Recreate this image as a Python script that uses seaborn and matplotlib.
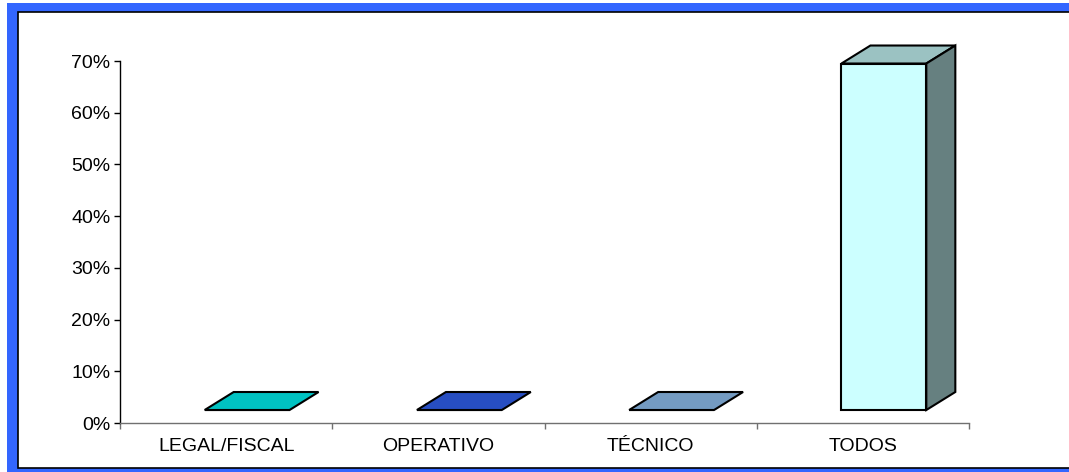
import numpy as np
import pandas as pd
import seaborn as sns
import matplotlib.pyplot as plt
import matplotlib.transforms as mtransforms
from matplotlib.patches import Polygon, Rectangle
from matplotlib.ticker import FuncFormatter, FixedLocator

# data
categorias = ["LEGAL/FISCAL", "OPERATIVO", "TÉCNICO", "TODOS"]
valores = [0.0, 0.0, 0.0, 0.67]
colores = ["#00FFFF", "#3366FF", "#99CCFF", "#CCFFFF"]
y_ticks = [0.0, 0.1, 0.2, 0.3, 0.4, 0.5, 0.6, 0.7]

df = pd.DataFrame({"cat": categorias, "val": valores})

sns.set_theme(style="white")
plt.rcParams["font.family"] = ["Liberation Sans", "DejaVu Sans"]

W, H = 1069, 472
fig = plt.figure(figsize=(W / 100, H / 100), dpi=100)

# frame: blue band + white panel with black edge
fig.patches.append(Rectangle((7 / W, 0), 1.1, (H - 3) / H, transform=fig.transFigure,
                             facecolor="#3366FF", edgecolor="none", zorder=-2))
fig.patches.append(Rectangle((18 / W, 4 / H), 1.1, (H - 16) / H, transform=fig.transFigure,
                             facecolor="white", edgecolor="black", linewidth=1.2, zorder=-1))

# axes box in pixels
ax_l, ax_r, ax_t, ax_b = 120, 969, 61, 423
ax = fig.add_axes([ax_l / W, (H - ax_b) / H, (ax_r - ax_l) / W, (ax_b - ax_t) / H])
ax.patch.set_alpha(0)

sns.barplot(data=df, x="cat", y="val", hue="cat", palette=colores, legend=False,
            saturation=1, width=0.4, edgecolor="black", linewidth=1.5, ax=ax)

ax.set_xlim(-0.5, 3.5)
ax.set_ylim(0, 0.7)

# pixel -> data conversion
px_x = 4.0 / (ax_r - ax_l)
px_y = 0.7 / (ax_b - ax_t)
dx, dy = 29 * px_x, 18 * px_y      # depth of the 3d bars
shift = mtransforms.ScaledTranslation(21 / 100, 13 / 100, fig.dpi_scale_trans)
tr = ax.transData + shift

def darker(c, f):
    r, g, b = [int(c[i:i + 2], 16) / 255 for i in (1, 3, 5)]
    return (r * f, g * f, b * f)

for p, col in zip(ax.patches[:len(categorias)], colores):
    p.set_transform(tr)
    p.set_clip_on(False)
    x0 = p.get_x()
    x1 = x0 + p.get_width()
    top = p.get_height()
    topface = Polygon([(x0, top), (x1, top), (x1 + dx, top + dy), (x0 + dx, top + dy)],
                      closed=True, facecolor=darker(col, 0.76), edgecolor="black",
                      linewidth=1.5, transform=tr, clip_on=False, zorder=3)
    ax.add_patch(topface)
    if top > 0:
        side = Polygon([(x1, 0), (x1, top), (x1 + dx, top + dy), (x1 + dx, dy)],
                       closed=True, facecolor=darker(col, 0.5), edgecolor="black",
                       linewidth=1.5, transform=tr, clip_on=False, zorder=3)
        ax.add_patch(side)

# axes styling
for s in ["top", "right"]:
    ax.spines[s].set_visible(False)
ax.spines["left"].set_color("black")
ax.spines["left"].set_linewidth(1.0)
ax.spines["bottom"].set_color("#707070")
ax.spines["bottom"].set_linewidth(1.0)

ax.set_yticks(y_ticks)
ax.yaxis.set_major_formatter(FuncFormatter(lambda v, _: f"{v:.0%}"))
ax.tick_params(axis="y", which="major", direction="out", length=4, width=1,
               color="black", labelsize=14, labelcolor="black", pad=3, left=True)
ax.set_xticks(range(len(categorias)))
ax.set_xticklabels(categorias)
ax.tick_params(axis="x", which="major", length=0, labelsize=14, labelcolor="black", pad=11)
ax.xaxis.set_minor_locator(FixedLocator(np.arange(-0.5, 4.0, 1.0)))
ax.tick_params(axis="x", which="minor", direction="out", length=4, width=1,
               color="#707070", bottom=True)
ax.set_xlabel("")
ax.set_ylabel("")

fig.savefig("out.png", dpi=100)
